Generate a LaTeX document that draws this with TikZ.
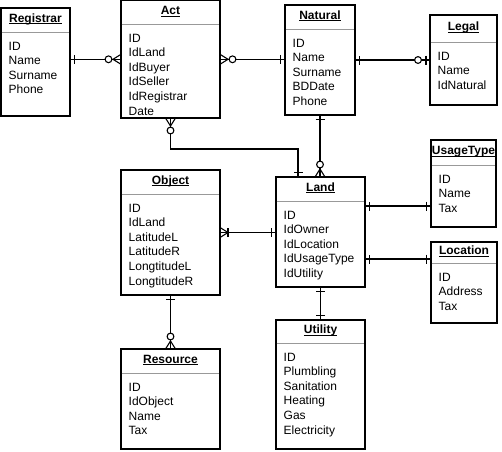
\documentclass[tikz,border=0pt]{standalone}
\usepackage{fontspec}
\setmainfont{Liberation Sans}
\usetikzlibrary{calc}
\tikzset{
  x=1pt,y=1pt,
  box/.style={draw=black, line width=1.2pt, rectangle, inner sep=0pt, outer sep=0pt, anchor=north west},
  sepline/.style={draw=black!40, line width=0.9pt},
  ttl/.style={font=\fontsize{12}{14}\selectfont\bfseries, inner sep=0pt, anchor=base},
  attr/.style={font=\fontsize{12}{14}\selectfont, inner sep=0pt, anchor=base west},
  conn/.style={draw=black, line width=1.1pt},
  erone/.pic={\draw[conn] (4.5,-4.5)--(4.5,4.5);},
  erzmany/.pic={\draw[conn] (0,5)--(8,0)--(0,-5); \draw[conn] (0,0)--(8,0); \draw[conn,fill=white] (12.5,0) circle (3.4);},
  eromany/.pic={\draw[conn] (0,5)--(8,0)--(0,-5); \draw[conn] (8,-4.5)--(8,4.5);},
  erzone/.pic={\draw[conn] (4,-4.5)--(4,4.5); \draw[conn,fill=white] (12,0) circle (3.4);},
}
% name, x, y, w, h, header height, title, attributes
\newcommand\erentity[8]{%
  \node[box, minimum width=#4, minimum height=#5] (#1) at (#2,-#3) {};
  \draw[sepline] ($(#1.north west)+(0.7,-#6)$) -- ($(#1.north east)+(-0.7,-#6)$);
  \node[ttl] (#1-t) at ($(#1.north)+(0,-#6/2-2)$) {\underline{\smash{#7}}};
  \foreach \a [count=\i] in {#8} {\node[attr] (#1-a\i) at ($(#1.north west)+(7.5,-#6-18-14.6*\i+14.6)$) {\a};}
}
\begin{document}
\begin{tikzpicture}
\useasboundingbox (0,0) rectangle (502,-451);
\fill[white] (0,0) rectangle (502,-451);

\erentity{reg}{1}{8}{69}{108}{24}{Registrar}{ID,Name,Surname,Phone}
\erentity{act}{121}{0.6}{99}{117.4}{23.4}{Act}{ID,IdLand,IdBuyer,IdSeller,IdRegistrar,Date}
\erentity{nat}{285}{5}{70}{110}{24}{Natural}{ID,Name,Surname,BDDate,Phone}
\erentity{legal}{430}{15}{67}{90}{27}{Legal}{ID,Name,IdNatural}
\erentity{obj}{121}{170}{99}{125}{24}{Object}{ID,IdLand,LatitudeL,LatitudeR,LongtitudeL,LongtitudeR}
\erentity{land}{276}{177}{89}{110}{24}{Land}{ID,IdOwner,IdLocation,IdUsageType,IdUtility}
\erentity{ut}{431}{140}{65}{87}{25}{UsageType}{ID,Name,Tax}
\erentity{loc}{431}{242}{66}{81}{21}{Location}{ID,Address,Tax}
\erentity{util}{276}{320}{89}{129}{23}{Utility}{ID,Plumbling,Sanitation,Heating,Gas,Electricity}
\erentity{res}{121}{349}{99}{100}{24}{Resource}{ID,IdObject,Name,Tax}

% Registrar - Act
\draw[conn] (act.west -| reg.east) -- (act.west);
\pic at (act.west -| reg.east) {erone};
\pic[rotate=180] at (act.west) {erzmany};

% Act - Natural
\draw[conn] (act.east) -- (act.east -| nat.west);
\pic at (act.east) {erzmany};
\pic[rotate=180] at (act.east -| nat.west) {erone};

% Natural - Legal
\draw[conn] (nat.east) -- (nat.east -| legal.west);
\pic at (nat.east) {erone};
\pic[rotate=180] at (nat.east -| legal.west) {erzone};

% Act - Land
\coordinate (landA) at ($(land.north)+(-22.5,0)$);
\draw[conn] (act.south) -- ++(0,-31) -| (landA);
\pic[rotate=-90] at (act.south) {erzmany};
\pic[rotate=90] at (landA) {erone};

% Natural - Land
\draw[conn] (nat.south) -- (nat.south |- land.north);
\pic[rotate=-90] at (nat.south) {erone};
\pic[rotate=90] at (nat.south |- land.north) {erzmany};

% Object - Land
\draw[conn] (obj.east) -- (obj.east -| land.west);
\pic at (obj.east) {eromany};
\pic[rotate=180] at (obj.east -| land.west) {erone};

% Land - UsageType
\coordinate (landU) at ($(land.north east)+(0,-29)$);
\draw[conn] (landU) -- (landU -| ut.west);
\pic at (landU) {erone};
\pic[rotate=180] at (landU -| ut.west) {erone};

% Land - Location
\coordinate (landL) at ($(land.north east)+(0,-82)$);
\draw[conn] (landL) -- (landL -| loc.west);
\pic at (landL) {erone};
\pic[rotate=180] at (landL -| loc.west) {erone};

% Land - Utility
\draw[conn] (land.south) -- (land.south |- util.north);
\pic[rotate=-90] at (land.south) {erone};
\pic[rotate=90] at (land.south |- util.north) {erone};

% Object - Resource
\draw[conn] (obj.south) -- (obj.south |- res.north);
\pic[rotate=-90] at (obj.south) {erone};
\pic[rotate=90] at (obj.south |- res.north) {erzmany};
\end{tikzpicture}
\end{document}
